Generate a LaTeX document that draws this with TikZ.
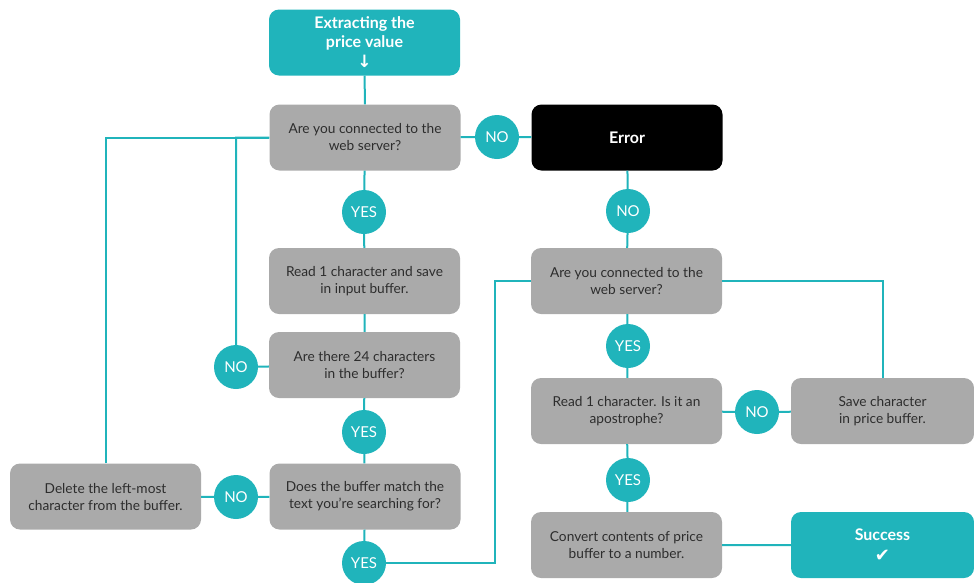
\documentclass[tikz,border=0pt]{standalone}
\usepackage{fontspec}
\setmainfont{Lato}
\newfontfamily\symfont{DejaVu Sans}
\usetikzlibrary{positioning}

\definecolor{flowteal}{RGB}{32,180,187}
\definecolor{flowgray}{RGB}{170,170,170}
\definecolor{flowtext}{RGB}{45,45,45}

\tikzset{
    flowbox/.style={rectangle, rounded corners=10pt, fill=flowgray, text=flowtext,
        minimum width=191pt, minimum height=66pt, align=center,
        font=\fontsize{13.7}{17}\selectfont},
    tealbox/.style={flowbox, fill=flowteal, text=white, font=\fontsize{16}{19}\selectfont\bfseries},
    errbox/.style={flowbox, fill=black, text=white, font=\fontsize{16}{19}\selectfont\bfseries},
    answer/.style={circle, fill=flowteal, text=white, minimum size=44pt, inner sep=0pt,
        font=\fontsize{15}{16}\selectfont},
    link/.style={draw=flowteal, line width=2pt},
}

\begin{document}
\begin{tikzpicture}[x=1pt, y=-1pt]
    \useasboundingbox (0, 0) rectangle (974, 582);
    % left column
    \node[tealbox, inner ysep=2pt] (start) at (364.5, 42.5) {Extracting the\\price value\\[1pt]{\symfont\bfseries\fontsize{17}{17}\selectfont ↓}};
    \node[flowbox] (conn1) at (365, 137.5) {Are you connected to the\\web server?};
    \node[answer] (yes1) at (364, 212) {YES};
    \node[flowbox] (readin) at (364.5, 281) {Read 1 character and save\\in input buffer.};
    \node[flowbox] (count) at (364.5, 365) {Are there 24 characters\\in the buffer?};
    \node[answer] (no3) at (236, 367) {NO};
    \node[answer] (yes3) at (364, 432) {YES};
    \node[flowbox] (match) at (365, 496.5) {Does the buffer match the\\text you’re searching for?};
    \node[answer] (no5) at (236, 497) {NO};
    \node[flowbox] (delete) at (105.5, 496.5) {Delete the left-most\\character from the buffer.};
    \node[answer] (yes4) at (364, 563) {YES};
    \coordinate (turn) at (495, 563);
    % right column
    \node[answer] (no1) at (497, 137) {NO};
    \node[errbox] (error) at (627, 137.5) {Error};
    \node[answer] (no2) at (628, 211) {NO};
    \node[flowbox] (conn2) at (626.5, 281) {Are you connected to the\\web server?};
    \node[answer] (yes2) at (628, 346) {YES};
    \node[flowbox] (apos) at (626.5, 411) {Read 1 character. Is it an\\apostrophe?};
    \node[answer] (no4) at (757, 412) {NO};
    \node[flowbox, minimum width=183pt] (save) at (882.5, 411) {Save character\\in price buffer.};
    \node[answer] (yes5) at (628, 480) {YES};
    \node[flowbox] (convert) at (626.5, 545) {Convert contents of price\\buffer to a number.};
    \node[tealbox, minimum width=183pt] (success) at (882.5, 545) {Success\\[2pt]{\symfont\mdseries\fontsize{18}{18}\selectfont ✔}};

    \draw[link] (start) -- (conn1) -- (yes1) -- (readin) -- (count) -- (yes3) -- (match) -- (yes4);
    \draw[link] (conn1) -- (no1) -- (error) -- (no2) -- (conn2) -- (yes2) -- (apos) -- (yes5) -- (convert) -- (success);
    \draw[link] (count) -- (no3) |- (conn1.west);
    \draw[link] (match) -- (no5) -- (delete);
    \draw[link] (delete) |- (conn1.west);
    \draw[link] (yes4) -- (turn) |- (conn2.west);
    \draw[link] (conn2.east) -| (save.north);
    \draw[link] (apos) -- (no4) -- (save);
\end{tikzpicture}
\end{document}
